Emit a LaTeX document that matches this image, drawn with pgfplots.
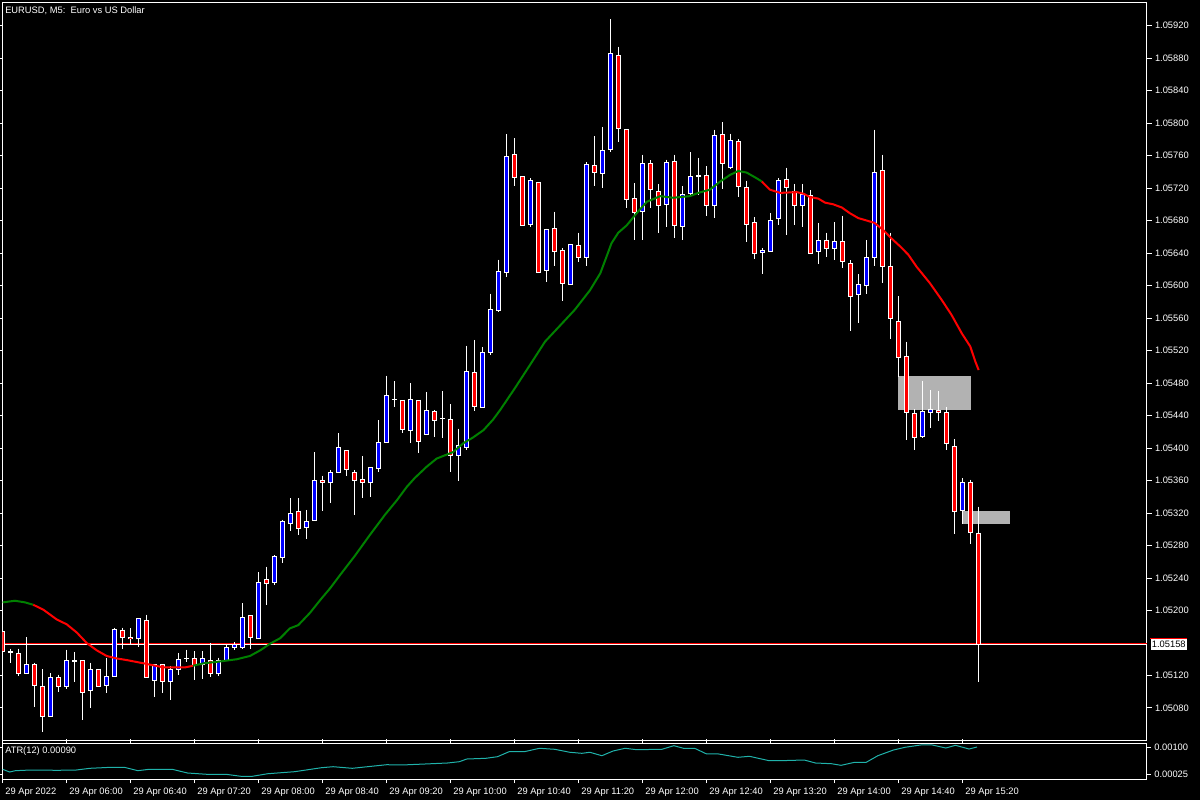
\documentclass[border=0pt]{standalone}
\usepackage{fontspec}
\setmainfont{Liberation Sans}
\usepackage{pgfplots}
\pgfplotsset{compat=1.18}
\definecolor{bull}{RGB}{0,0,255}
\definecolor{bear}{RGB}{255,0,0}
\definecolor{magreen}{RGB}{0,128,0}
\definecolor{atrcol}{RGB}{32,178,170}
\definecolor{zone}{RGB}{178,178,178}
\newcommand{\lblfont}{\fontsize{7}{8.4}\selectfont}
% \candle{index}{open}{high}{low}{close}
\newcommand{\candle}[5]{%
  \addplot[white, line width=0.75pt, forget plot] coordinates {(#1,#3) (#1,#4)};%
  \ifdim#2pt=#5pt
    \addplot[white, only marks, mark=-, mark size=1.9pt, mark options={line width=1.1pt}, forget plot] coordinates {(#1,#2)};%
  \else
    \addplot[white, line width=3.75pt, shorten >=-0.375pt, shorten <=-0.375pt, forget plot] coordinates {(#1,#2) (#1,#5)};%
    \ifdim#5pt>#2pt
      \addplot[bull, line width=2.25pt, shorten >=0.375pt, shorten <=0.375pt, forget plot] coordinates {(#1,#2) (#1,#5)};%
    \else
      \addplot[bear, line width=2.25pt, shorten >=0.375pt, shorten <=0.375pt, forget plot] coordinates {(#1,#2) (#1,#5)};%
    \fi
  \fi}
\begin{document}
\begin{tikzpicture}
\fill[black] (0,0) rectangle (900pt,600pt);
\begin{axis}[
  at={(1.725pt,44.475pt)}, anchor=south west,
  scale only axis, width=858.5pt, height=554pt,
  xmin=-0.05, xmax=143.04, ymin=1.0503975, ymax=1.0594892,
  axis line style={white, line width=0.75pt},
  xtick=\empty,
  ytick={1.0508,1.0512,1.052,1.0524,1.0528,1.0532,1.0536,1.054,1.0544,1.0548,1.0552,1.0556,1.056,1.0564,1.0568,1.0572,1.0576,1.058,1.0584,1.0588,1.0592},
  yticklabel pos=right, scaled y ticks=false,
  tick align=outside, major tick length=3.5pt,
  ytick style={white, line width=0.75pt},
  yticklabel style={white, font=\lblfont, xshift=-1pt, /pgf/number format/.cd, fixed, fixed zerofill, precision=5, assume math mode=true},
  clip mode=individual,
]
% zones
\addplot[fill=zone, draw=none, forget plot] coordinates {(111.9,1.05447) (121.0,1.05447) (121.0,1.05489) (111.9,1.05489)} -- cycle;
\addplot[fill=zone, draw=none, forget plot] coordinates {(119.95,1.05307) (125.9,1.05307) (125.9,1.05323) (119.95,1.05323)} -- cycle;
% bid line
\addplot[bear, line width=0.75pt, forget plot] coordinates {(-0.05,1.051592) (143.04,1.051592)};
\addplot[white, line width=0.75pt, forget plot] coordinates {(-0.05,1.05158) (143.04,1.05158)};
% candles
\candle{0}{1.05174}{1.05176}{1.05145}{1.05149}
\candle{1}{1.05149}{1.05153}{1.05136}{1.05149}
\candle{2}{1.05147}{1.05153}{1.05120}{1.05123}
\candle{3}{1.05123}{1.05167}{1.05122}{1.05133}
\candle{4}{1.05133}{1.05136}{1.05081}{1.05108}
\candle{5}{1.05107}{1.05128}{1.05051}{1.05069}
\candle{6}{1.05070}{1.05123}{1.05069}{1.05117}
\candle{7}{1.05117}{1.05121}{1.05100}{1.05107}
\candle{8}{1.05107}{1.05152}{1.05103}{1.05138}
\candle{9}{1.05138}{1.05149}{1.05112}{1.05138}
\candle{10}{1.05138}{1.05138}{1.05065}{1.05099}
\candle{11}{1.05102}{1.05136}{1.05080}{1.05128}
\candle{12}{1.05128}{1.05128}{1.05107}{1.05107}
\candle{13}{1.05108}{1.05142}{1.05098}{1.05119}
\candle{14}{1.05119}{1.05179}{1.05119}{1.05177}
\candle{15}{1.05176}{1.05179}{1.05153}{1.05167}
\candle{16}{1.05167}{1.05178}{1.05158}{1.05165}
\candle{17}{1.05165}{1.05190}{1.05155}{1.05190}
\candle{18}{1.05188}{1.05195}{1.05117}{1.05117}
\candle{19}{1.05114}{1.05133}{1.05093}{1.05133}
\candle{20}{1.05133}{1.05133}{1.05098}{1.05112}
\candle{21}{1.05112}{1.05132}{1.05090}{1.05128}
\candle{22}{1.05128}{1.05148}{1.05121}{1.05140}
\candle{23}{1.05141}{1.05152}{1.05137}{1.05141}
\candle{24}{1.05141}{1.05150}{1.05114}{1.05132}
\candle{25}{1.05133}{1.05150}{1.05116}{1.05141}
\candle{26}{1.05138}{1.05160}{1.05118}{1.05122}
\candle{27}{1.05122}{1.05142}{1.05120}{1.05138}
\candle{28}{1.05138}{1.05158}{1.05138}{1.05155}
\candle{29}{1.05155}{1.05161}{1.05151}{1.05158}
\candle{30}{1.05155}{1.05209}{1.05153}{1.05192}
\candle{31}{1.05194}{1.05194}{1.05153}{1.05167}
\candle{32}{1.05166}{1.05247}{1.05166}{1.05235}
\candle{33}{1.05238}{1.05254}{1.05207}{1.05233}
\candle{34}{1.05235}{1.05268}{1.05232}{1.05267}
\candle{35}{1.05265}{1.05312}{1.05258}{1.05309}
\candle{36}{1.05307}{1.05338}{1.05298}{1.05320}
\candle{37}{1.05322}{1.05338}{1.05293}{1.05301}
\candle{38}{1.05302}{1.05324}{1.05288}{1.05309}
\candle{39}{1.05311}{1.05395}{1.05310}{1.05360}
\candle{40}{1.05360}{1.05366}{1.05322}{1.05358}
\candle{41}{1.05357}{1.05373}{1.05332}{1.05370}
\candle{42}{1.05370}{1.05418}{1.05370}{1.05401}
\candle{43}{1.05397}{1.05397}{1.05366}{1.05373}
\candle{44}{1.05370}{1.05373}{1.05318}{1.05360}
\candle{45}{1.05361}{1.05390}{1.05338}{1.05358}
\candle{46}{1.05357}{1.05376}{1.05340}{1.05376}
\candle{47}{1.05375}{1.05434}{1.05370}{1.05407}
\candle{48}{1.05407}{1.05489}{1.05407}{1.05465}
\candle{49}{1.05460}{1.05482}{1.05451}{1.05460}
\candle{50}{1.05459}{1.05459}{1.05419}{1.05423}
\candle{51}{1.05422}{1.05480}{1.05406}{1.05460}
\candle{52}{1.05459}{1.05459}{1.05394}{1.05408}
\candle{53}{1.05417}{1.05469}{1.05417}{1.05446}
\candle{54}{1.05445}{1.05447}{1.05414}{1.05434}
\candle{55}{1.05436}{1.05470}{1.05412}{1.05436}
\candle{56}{1.05435}{1.05454}{1.05370}{1.05391}
\candle{57}{1.05391}{1.05424}{1.05359}{1.05403}
\candle{58}{1.05401}{1.05526}{1.05398}{1.05494}
\candle{59}{1.05493}{1.05533}{1.05445}{1.05451}
\candle{60}{1.05450}{1.05524}{1.05450}{1.05518}
\candle{61}{1.05518}{1.05590}{1.05514}{1.05571}
\candle{62}{1.05569}{1.05632}{1.05568}{1.05617}
\candle{63}{1.05616}{1.05786}{1.05610}{1.05759}
\candle{64}{1.05761}{1.05781}{1.05722}{1.05733}
\candle{65}{1.05734}{1.05734}{1.05673}{1.05674}
\candle{66}{1.05675}{1.05732}{1.05672}{1.05729}
\candle{67}{1.05727}{1.05727}{1.05615}{1.05616}
\candle{68}{1.05619}{1.05670}{1.05604}{1.05669}
\candle{69}{1.05670}{1.05691}{1.05624}{1.05642}
\candle{70}{1.05643}{1.05646}{1.05581}{1.05603}
\candle{71}{1.05601}{1.05651}{1.05601}{1.05651}
\candle{72}{1.05649}{1.05665}{1.05629}{1.05635}
\candle{73}{1.05635}{1.05752}{1.05624}{1.05749}
\candle{74}{1.05748}{1.05784}{1.05722}{1.05739}
\candle{75}{1.05738}{1.05795}{1.05720}{1.05766}
\candle{76}{1.05768}{1.05928}{1.05764}{1.05885}
\candle{77}{1.05883}{1.05894}{1.05777}{1.05793}
\candle{78}{1.05792}{1.05792}{1.05695}{1.05706}
\candle{79}{1.05707}{1.05726}{1.05656}{1.05690}
\candle{80}{1.05691}{1.05761}{1.05656}{1.05750}
\candle{81}{1.05750}{1.05754}{1.05695}{1.05718}
\candle{82}{1.05716}{1.05725}{1.05665}{1.05698}
\candle{83}{1.05700}{1.05755}{1.05672}{1.05752}
\candle{84}{1.05753}{1.05761}{1.05659}{1.05674}
\candle{85}{1.05673}{1.05722}{1.05656}{1.05712}
\candle{86}{1.05713}{1.05764}{1.05711}{1.05734}
\candle{87}{1.05735}{1.05757}{1.05712}{1.05735}
\candle{88}{1.05736}{1.05747}{1.05686}{1.05699}
\candle{89}{1.05698}{1.05792}{1.05683}{1.05785}
\candle{90}{1.05786}{1.05801}{1.05719}{1.05750}
\candle{91}{1.05745}{1.05787}{1.05743}{1.05779}
\candle{92}{1.05777}{1.05780}{1.05709}{1.05722}
\candle{93}{1.05721}{1.05729}{1.05654}{1.05675}
\candle{94}{1.05677}{1.05684}{1.05633}{1.05640}
\candle{95}{1.05641}{1.05646}{1.05614}{1.05643}
\candle{96}{1.05642}{1.05689}{1.05642}{1.05680}
\candle{97}{1.05682}{1.05732}{1.05675}{1.05729}
\candle{98}{1.05731}{1.05745}{1.05662}{1.05721}
\candle{99}{1.05716}{1.05725}{1.05675}{1.05698}
\candle{100}{1.05698}{1.05725}{1.05672}{1.05712}
\candle{101}{1.05711}{1.05717}{1.05640}{1.05640}
\candle{102}{1.05642}{1.05677}{1.05627}{1.05656}
\candle{103}{1.05656}{1.05665}{1.05635}{1.05645}
\candle{104}{1.05646}{1.05678}{1.05632}{1.05654}
\candle{105}{1.05654}{1.05686}{1.05621}{1.05629}
\candle{106}{1.05627}{1.05631}{1.05544}{1.05587}
\candle{107}{1.05589}{1.05614}{1.05554}{1.05601}
\candle{108}{1.05600}{1.05656}{1.05589}{1.05635}
\candle{109}{1.05635}{1.05792}{1.05624}{1.05739}
\candle{110}{1.05741}{1.05761}{1.05603}{1.05624}
\candle{111}{1.05624}{1.05665}{1.05534}{1.05560}
\candle{112}{1.05556}{1.05587}{1.05488}{1.05512}
\candle{113}{1.05513}{1.05531}{1.05410}{1.05444}
\candle{114}{1.05443}{1.05448}{1.05397}{1.05413}
\candle{115}{1.05414}{1.05483}{1.05412}{1.05445}
\candle{116}{1.05444}{1.05471}{1.05425}{1.05448}
\candle{117}{1.05446}{1.05470}{1.05433}{1.05444}
\candle{118}{1.05444}{1.05450}{1.05397}{1.05406}
\candle{119}{1.05402}{1.05411}{1.05294}{1.05322}
\candle{120}{1.05323}{1.05363}{1.05306}{1.05357}
\candle{121}{1.05358}{1.05361}{1.05282}{1.05296}
\candle{122}{1.05295}{1.05328}{1.05112}{1.05158}
% moving average, coloured by slope
\addplot[magreen, line width=1.5pt, forget plot] coordinates {(0,1.05210) (1.54,1.05212) (2.79,1.05210) (3.83,1.05207)};
\addplot[bear, line width=1.5pt, forget plot] coordinates {(3.83,1.05207) (5.08,1.05201) (6.75,1.05189) (8,1.05183) (9.25,1.05173) (10.5,1.05160) (11.75,1.05151) (13,1.05144) (14.25,1.05141) (15.5,1.05139) (17.6,1.05135) (20.1,1.05130) (22.8,1.05130) (23.8,1.05132)};
\addplot[magreen, line width=1.5pt, forget plot] coordinates {(23.8,1.05132) (25.1,1.05135) (26.95,1.05137) (29.25,1.05140) (30.9,1.05144) (32.2,1.05151) (33.4,1.05159) (34.7,1.05166) (35.9,1.05178) (36.95,1.05182) (38.4,1.05197) (39.7,1.05213) (40.9,1.05227) (42.2,1.05244) (44,1.05267) (45.9,1.05293) (47.8,1.05318) (49.3,1.05336) (50.5,1.05352) (51.5,1.05363) (53,1.05377) (54.25,1.05387) (56.3,1.05395) (57.6,1.05406) (58.8,1.05413) (60.1,1.05422) (61.3,1.05435) (62.2,1.05447) (64.05,1.05474) (65.9,1.05502) (67.8,1.05531) (69.7,1.05551) (71.5,1.05570) (73.4,1.05594) (74.7,1.05615) (75.5,1.05636) (76.1,1.05652) (76.95,1.05665) (78,1.05674) (79.25,1.05689) (80.5,1.05703) (82.2,1.05710) (83.8,1.05708) (85.9,1.05710) (86.95,1.05714) (88.4,1.05718) (89.7,1.05728) (90.9,1.05736) (91.95,1.05741) (93,1.05739) (94.25,1.05732) (94.9,1.05728)};
\addplot[bear, line width=1.5pt, forget plot] coordinates {(94.9,1.05728) (95.9,1.05718) (97.2,1.05714) (99.25,1.05715) (100.1,1.05713) (100.9,1.05709) (101.95,1.05707) (102.8,1.05702) (103.8,1.05700) (104.9,1.05696) (105.9,1.05689) (106.95,1.05683) (108,1.05680) (109,1.05677) (110.1,1.05668) (111.1,1.05658) (112.2,1.05648) (113.2,1.05638) (114.25,1.05623) (115.9,1.05603) (117.4,1.05582) (118.6,1.05564) (119.9,1.05541) (120.95,1.05525) (121.6,1.05506) (122,1.05496)};
% current price label
\node[fill=white, text=black, font=\lblfont, inner sep=1pt, anchor=west, minimum height=8.5pt] (pl) at (axis cs:143.04,1.05158) [xshift=2.5pt] {1.05158};
\draw[bear, line width=0.75pt] (pl.north west) -- (pl.north east);
\end{axis}
\begin{axis}[
  at={(1.725pt,15.75pt)}, anchor=south west,
  scale only axis, width=858.5pt, height=27pt,
  xmin=-0.05, xmax=143.04, ymin=0.0001096, ymax=0.0011208,
  axis line style={white, line width=0.75pt},
  xtick={0,8,16,24,32,40,48,56,64,72,80,88,96,104,112,120},
  xticklabels={29 Apr 2022,29 Apr 06:00,29 Apr 06:40,29 Apr 07:20,29 Apr 08:00,29 Apr 08:40,29 Apr 09:20,29 Apr 10:00,29 Apr 10:40,29 Apr 11:20,29 Apr 12:00,29 Apr 12:40,29 Apr 13:20,29 Apr 14:00,29 Apr 14:40,29 Apr 15:20},
  xticklabel style={white, font=\lblfont, anchor=north west, xshift=-1.5pt},
  ytick={0.00025,0.001},
  yticklabel pos=right, scaled y ticks=false,
  yticklabel style={white, font=\lblfont, xshift=-1pt, /pgf/number format/.cd, fixed, fixed zerofill, precision=5, assume math mode=true},
  tick align=outside, major tick length=3pt,
  tick style={white, line width=0.75pt},
]
\addplot[atrcol, line width=0.75pt] coordinates {(0,0.000382) (0.86,0.000306) (1.58,0.000343) (3.49,0.000362) (6.84,0.000354) (9.2,0.000362) (10.9,0.000410) (13.5,0.000438) (15.2,0.000438) (16.9,0.000343) (18.3,0.000382) (21.2,0.000382) (23.1,0.000278) (25.5,0.000242) (27.9,0.000242) (29.8,0.000185) (31.2,0.000185) (33.15,0.000258) (36.5,0.000315) (39.85,0.000427) (41.3,0.000455) (43.7,0.000410) (45.6,0.000455) (48,0.000511) (49.9,0.000503) (52.8,0.000531) (55.6,0.000559) (57.1,0.000596) (58,0.000671) (60.4,0.000691) (61.85,0.000736) (63.3,0.000876) (65.2,0.000876) (67.1,0.000972) (69,0.000944) (70.9,0.000860) (72.4,0.000831) (73.4,0.000860) (74.9,0.000764) (76.3,0.000896) (77.8,0.000972) (79.25,0.000933) (82.4,0.000944) (83.9,0.001045) (85.1,0.000972) (86.5,0.000972) (88,0.000812) (89.5,0.000812) (91.9,0.000719) (93.35,0.000747) (95.8,0.000624) (97.25,0.000624) (100.2,0.000643) (101.6,0.000559) (103.6,0.000539) (104.8,0.000494) (106.5,0.000579) (107.95,0.000579) (109.4,0.000764) (111.35,0.000924) (112.8,0.001000) (114.75,0.001065) (116.2,0.001065) (117.9,0.000980) (119.1,0.001056) (120.8,0.000952) (121.8,0.001008)};
\end{axis}
\node[anchor=north west, inner sep=0pt, white, font=\lblfont] at (3.75pt,595.5pt) {EURUSD, M5:\ \ Euro vs US Dollar};
\node[anchor=west, inner sep=0pt, white, font=\lblfont] at (3.75pt,36.75pt) {ATR(12) 0.00090};
\pgfresetboundingbox
\path[use as bounding box] (0,0) rectangle (900pt,600pt);
\end{tikzpicture}
\end{document}
